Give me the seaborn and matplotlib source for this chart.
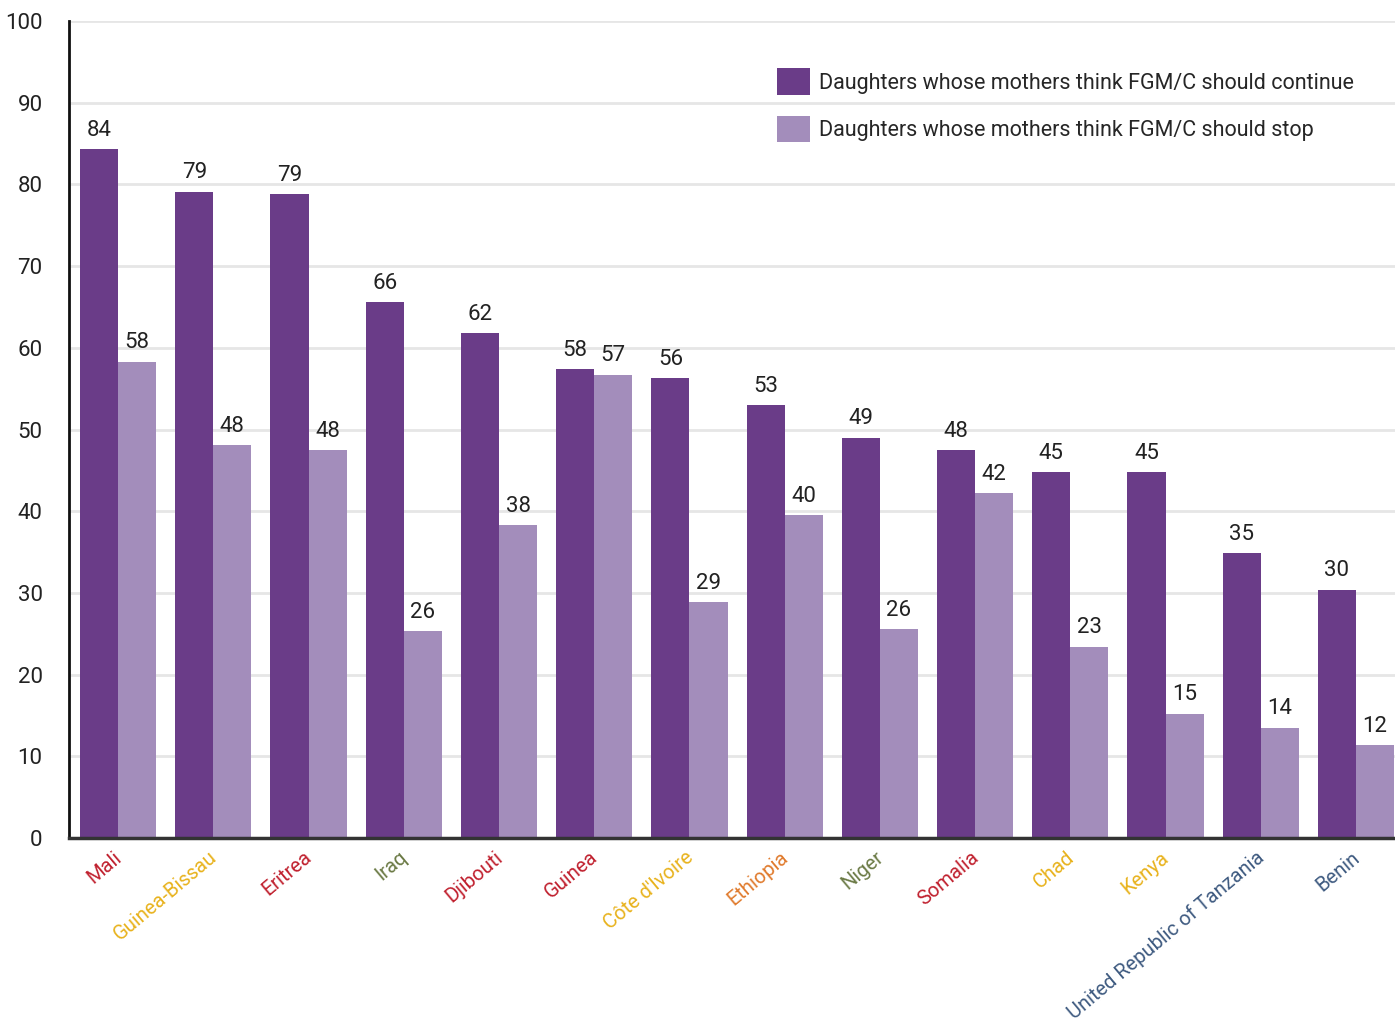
import numpy as np
import pandas as pd
import matplotlib
matplotlib.use("Agg")
import matplotlib.pyplot as plt
import matplotlib.transforms as mtrans
import seaborn as sns

sns.set_style("white")
plt.rcParams['font.family'] = ['Roboto', 'DejaVu Sans']

# dados (valores das barras e rotulos arredondados)
paises = ['Mali', 'Guinea-Bissau', 'Eritrea', 'Iraq', 'Djibouti', 'Guinea',
          "Côte d'Ivoire", 'Ethiopia', 'Niger', 'Somalia', 'Chad', 'Kenya',
          'United Republic of Tanzania', 'Benin']
continuar = [84.3, 79.1, 78.8, 65.6, 61.8, 57.4, 56.3, 53.0, 49.0, 47.5, 44.8, 44.8, 34.9, 30.4]
parar = [58.3, 48.1, 47.5, 25.3, 38.3, 56.7, 28.9, 39.5, 25.6, 42.2, 23.4, 15.2, 13.5, 11.4]
rot_continuar = [84, 79, 79, 66, 62, 58, 56, 53, 49, 48, 45, 45, 35, 30]
rot_parar = [58, 48, 48, 26, 38, 57, 29, 40, 26, 42, 23, 15, 14, 12]
cores_paises = ['#c0202e', '#e8b21c', '#c0202e', '#6b7a45', '#c0202e', '#c0202e',
                '#e8b21c', '#e07a2c', '#6b7a45', '#c0202e', '#e8b21c', '#e8b21c',
                '#3e5a80', '#3e5a80']

serie_c = 'Daughters whose mothers think FGM/C should continue'
serie_p = 'Daughters whose mothers think FGM/C should stop'

df = pd.DataFrame({
    'pais': paises * 2,
    'valor': continuar + parar,
    'serie': [serie_c] * len(paises) + [serie_p] * len(paises),
})

fig = plt.figure(figsize=(13.95, 10.30), dpi=100)
ax = fig.add_axes([0.0495, 0.1864, 0.9505, 0.7932])

sns.barplot(data=df, x='pais', y='valor', hue='serie',
            palette=['#6a3c88', '#a38dbb'], saturation=1, width=0.8,
            linewidth=0, ax=ax, zorder=2)

for cont, rots in zip(ax.containers, [rot_continuar, rot_parar]):
    ax.bar_label(cont, labels=[str(r) for r in rots], padding=6,
                 fontsize=16, color='#222222')

ax.set_ylim(0, 100)
ax.set_xlim(-0.515, 13.41)
ax.set_yticks(range(0, 101, 10))
ax.yaxis.grid(True, color='#e6e6e6', linewidth=2)
ax.set_axisbelow(True)
ax.tick_params(axis='y', length=0, pad=19, labelsize=16, labelcolor='#222222')
ax.tick_params(axis='x', length=0, pad=7)
ax.set_xlabel('')
ax.set_ylabel('')

ax.set_xticks(range(len(paises)))
ax.set_xticklabels(paises, rotation=40, ha='right', rotation_mode='anchor',
                   fontsize=14.5)
desloc = mtrans.ScaledTranslation(-5 / 100, 0, fig.dpi_scale_trans)
for lbl, c in zip(ax.get_xticklabels(), cores_paises):
    lbl.set_color(c)
    lbl.set_transform(lbl.get_transform() + desloc)

for s in ['top', 'right']:
    ax.spines[s].set_visible(False)
ax.spines['left'].set_color('#111111')
ax.spines['left'].set_linewidth(2)
ax.spines['bottom'].set_color('#333333')
ax.spines['bottom'].set_linewidth(2.5)
ax.spines['left'].set_zorder(5)
ax.spines['bottom'].set_zorder(5)

ax.legend(loc='upper left', bbox_to_anchor=(0.551, 0.942),
          bbox_transform=fig.transFigure, frameon=False, fontsize=15.5,
          handlelength=1.5, handleheight=1.5, handletextpad=0.45,
          labelspacing=1.0, borderaxespad=0, title=None)

fig.savefig('out.png', dpi=100)
